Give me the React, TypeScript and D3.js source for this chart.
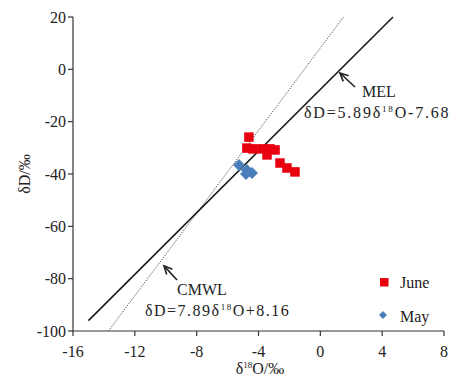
import React from "react";
import * as d3 from "d3";

const W = 451;
const H = 376;

const xTicks = [-16, -12, -8, -4, 0, 4, 8];
const yTicks = [20, 0, -20, -40, -60, -80, -100];

const juneX = [-4.62, -4.75, -4.36, -3.77, -3.26, -2.93, -3.45, -2.61, -2.16, -1.64];
const juneY = [-25.9, -30.1, -30.4, -30.4, -30.4, -30.8, -32.7, -35.8, -37.7, -39.2];

const mayX = [-5.26, -4.75, -4.42, -4.81];
const mayY = [-36.6, -38.5, -39.6, -40.0];

// lines: slope, intercept, x range
const melLine = { slope: 5.89, intercept: -7.68, xFrom: -15, yTo: 20 };
const cmwlLine = { slope: 7.89, intercept: 8.16, yFrom: -100, yTo: 20 };

const FONT = "'Liberation Serif', 'Times New Roman', serif";

export default function App() {
  const x = d3.scaleLinear().domain([-16, 8]).range([73, 444]);
  const y = d3.scaleLinear().domain([-100, 20]).range([331, 17]);

  const melX1 = (melLine.yTo - melLine.intercept) / melLine.slope;
  const melPath = d3.line<[number, number]>()
    .x((d) => x(d[0]))
    .y((d) => y(d[1]))([
      [melLine.xFrom, melLine.slope * melLine.xFrom + melLine.intercept],
      [melX1, melLine.yTo],
    ]);
  const cX0 = (cmwlLine.yFrom - cmwlLine.intercept) / cmwlLine.slope;
  const cX1 = (cmwlLine.yTo - cmwlLine.intercept) / cmwlLine.slope;
  const cmwlPath = d3.line<[number, number]>()
    .x((d) => x(d[0]))
    .y((d) => y(d[1]))([
      [cX0, cmwlLine.yFrom],
      [cX1, cmwlLine.yTo],
    ]);

  const arrow = (x1: number, y1: number, x2: number, y2: number, key: string) => {
    const ang = Math.atan2(y1 - y2, x1 - x2);
    const len = 9;
    const spread = 0.45;
    const a1 = [x2 + len * Math.cos(ang + spread), y2 + len * Math.sin(ang + spread)];
    const a2 = [x2 + len * Math.cos(ang - spread), y2 + len * Math.sin(ang - spread)];
    return (
      <g key={key} stroke="#222" strokeWidth={1.6} fill="none">
        <line x1={x1} y1={y1} x2={x2} y2={y2} />
        <polyline points={`${a1[0]},${a1[1]} ${x2},${y2} ${a2[0]},${a2[1]}`} />
      </g>
    );
  };

  const diamond = (cx: number, cy: number, r: number) =>
    `M${cx},${cy - r}L${cx + r},${cy}L${cx},${cy + r}L${cx - r},${cy}Z`;

  const fs = 16;

  return (
    <svg
      width={W}
      height={H}
      style={{ position: "fixed", left: 0, top: 0, background: "#fff" }}
      fontFamily={FONT}
    >
      {/* axes */}
      <line x1={x(-16)} x2={x(8)} y1={y(-100)} y2={y(-100)} stroke="#333" strokeWidth={1.2} />
      <line x1={x(-16)} x2={x(-16)} y1={y(-100)} y2={y(20)} stroke="#333" strokeWidth={1.2} />
      {xTicks.map((t) => (
        <g key={"xt" + t}>
          <line x1={x(t)} x2={x(t)} y1={y(-100)} y2={y(-100) + 5} stroke="#333" strokeWidth={1.2} />
          <text x={x(t)} y={357} textAnchor="middle" fontSize={fs} fill="#222">
            {t}
          </text>
        </g>
      ))}
      {yTicks.map((t) => (
        <g key={"yt" + t}>
          <line x1={x(-16) - 5} x2={x(-16)} y1={y(t)} y2={y(t)} stroke="#333" strokeWidth={1.2} />
          <text x={x(-16) - 7} y={y(t) + 5.5} textAnchor="end" fontSize={fs} fill="#222">
            {t}
          </text>
        </g>
      ))}
      {/* axis titles */}
      <text x={260} y={374} textAnchor="middle" fontSize={fs} fill="#222">
        δ<tspan dy={-6} fontSize={9}>18</tspan>
        <tspan dy={6}>O/‰</tspan>
      </text>
      <text
        transform={`translate(30,174) rotate(-90)`}
        textAnchor="middle"
        fontSize={fs}
        fill="#222"
      >
        δD/‰
      </text>

      {/* lines */}
      <path d={cmwlPath || ""} stroke="#444" strokeWidth={0.9} strokeDasharray="1.2,1.2" fill="none" />
      <path d={melPath || ""} stroke="#1a1a1a" strokeWidth={1.6} fill="none" />

      {/* points */}
      {juneX.map((v, i) => (
        <rect
          key={"j" + i}
          x={x(v) - 4.75}
          y={y(juneY[i]) - 4.75}
          width={9.5}
          height={9.5}
          fill="#e8000f"
        />
      ))}
      {mayX.map((v, i) => (
        <path key={"m" + i} d={diamond(x(v), y(mayY[i]), 6)} fill="#4a7ebb" />
      ))}

      {/* annotations */}
      {arrow(x(2.24), y(-6.75), x(1.27), y(-1.4), "a1")}
      {arrow(x(-9.27), y(-80.5), x(-10.11), y(-75.1), "a2")}
      <text x={362} y={97} fontSize={fs} fill="#222">MEL</text>
      <text x={304} y={118} fontSize={fs} fill="#222" letterSpacing={1.8}>
        δD=5.89δ<tspan dy={-6} fontSize={9}>18</tspan>
        <tspan dy={6}>O-7.68</tspan>
      </text>
      <text x={177} y={295} fontSize={fs} fill="#222">CMWL</text>
      <text x={145} y={316} fontSize={fs} fill="#222" letterSpacing={1.5}>
        δD=7.89δ<tspan dy={-6} fontSize={9}>18</tspan>
        <tspan dy={6}>O+8.16</tspan>
      </text>

      {/* legend */}
      <rect x={380} y={278} width={8.5} height={8.5} fill="#e8000f" />
      <text x={400} y={288} fontSize={fs} fill="#222">June</text>
      <path d={diamond(383, 315, 4)} fill="#4a7ebb" />
      <text x={400} y={322} fontSize={fs} fill="#222">May</text>
    </svg>
  );
}
